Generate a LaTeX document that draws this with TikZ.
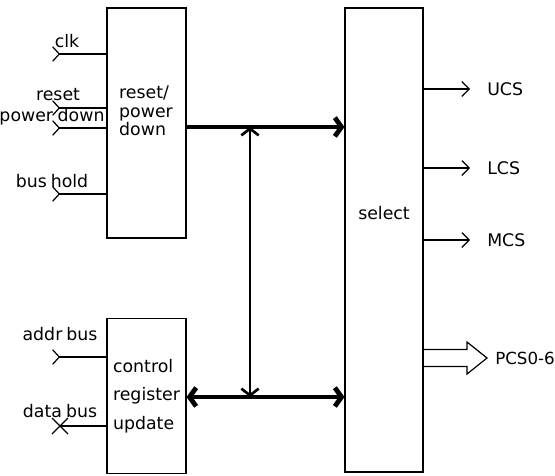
\documentclass[tikz,border=0pt]{standalone}
\usepackage{fontspec}
\setmainfont{DejaVu Sans}
\usetikzlibrary{arrows.meta,calc}

\tikzset{
  blk/.style={draw, line width=0.8pt, inner sep=0pt},
  sig/.style={line width=0.9pt},
  intip/.style={sig, {Straight Barb[reversed,length=5pt,width=11pt]}-},
  outtip/.style={sig, -{Straight Barb[length=5.5pt,width=11pt]}},
  bus/.style={line width=3.6pt},
  vbus/.style={line width=2pt},
  lbl/.style={font=\fontsize{13}{14}\selectfont, inner sep=0pt},
}

\begin{document}
\begin{tikzpicture}[x=0.75pt,y=-0.75pt]
  \useasboundingbox (0,0) rectangle (555,475);

  % blocks
  \node[blk, minimum width=59.25pt, minimum height=172.5pt] (rpd) at (146.5,123) {};
  \node[lbl, align=left] (rpdtxt) at (146,111) {reset/\\power\\down};

  \node[blk, minimum width=59.25pt, minimum height=116.25pt, lbl, align=left] (ctl) at (146.5,396) {control\\[7pt]register\\[8pt]update};

  \node[blk, minimum width=58.5pt, minimum height=348pt] (sel) at (384,240) {};
  \node[lbl] (seltxt) at (384,213) {select};

  % inputs
  \coordinate (clk) at (52,54);
  \coordinate (rst) at (52,108);
  \coordinate (pwd) at (52,128);
  \coordinate (bhd) at (52,194);
  \coordinate (adr) at (52,357);
  \coordinate (dat) at (60,426);

  \draw[intip] (clk) -- (clk -| rpd.west);
  \node[lbl, anchor=base] (lclk) at (67,47) {clk};
  \draw[intip] (rst) -- (rst -| rpd.west);
  \node[lbl, anchor=base] (lrst) at (58,100) {reset};
  \draw[intip] (pwd) -- (pwd -| rpd.west);
  \node[lbl, anchor=base] (lpwd) at (52,121) {power\hspace{3.5pt}down};
  \draw[intip] (bhd) -- (bhd -| rpd.west);
  \node[lbl, anchor=base] (lbhd) at (52,187) {bus\hspace{3pt}hold};

  \draw[intip] (adr) -- (adr -| ctl.west);
  \node[lbl, anchor=base] (ladr) at (60,340) {addr\hspace{3pt}bus};
  \draw[sig] (dat -| ctl.west) -- (dat);
  \draw[sig] (dat) ++(-8,-8) -- ++(16,16) ++(0,-16) -- ++(-16,16);
  \node[lbl, anchor=base] (ldat) at (60,417) {data\hspace{3pt}bus};

  % internal bus
  \coordinate (jt) at (250,127);
  \coordinate (jb) at (250,397);
  \draw[bus, -{Straight Barb[length=5pt,width=14pt]}] (jt -| rpd.east) -- (jt -| sel.west);
  \draw[vbus, {Straight Barb[length=5pt,width=13pt]}-{Straight Barb[length=5pt,width=13pt]}] (jt) -- (jb);
  \draw[bus, {Straight Barb[length=5pt,width=14pt]}-{Straight Barb[length=5pt,width=14pt]}] (jb -| ctl.east) -- (jb -| sel.west);

  % outputs
  \coordinate (ucs) at (470,89);
  \coordinate (lcs) at (470,168);
  \coordinate (mcs) at (470,240);
  \draw[outtip] (ucs -| sel.east) -- (ucs);
  \node[lbl, anchor=west] (lucs) at (487,89) {UCS};
  \draw[outtip] (lcs -| sel.east) -- (lcs);
  \node[lbl, anchor=west] (llcs) at (487,168) {LCS};
  \draw[outtip] (mcs -| sel.east) -- (mcs);
  \node[lbl, anchor=west] (lmcs) at (487,240) {MCS};

  \coordinate (pcs) at (423,358);
  \draw[sig, line join=miter] (pcs) ++(0,-8.5) -- ++(44,0) -- ++(0,-7.5) -- ++(20,16) -- ++(-20,16) -- ++(0,-7.5) -- ++(-44,0);
  \node[lbl, font=\fontsize{12.5}{14}\selectfont, anchor=east] (lpcs) at (555,358) {PCS0-6};
\end{tikzpicture}
\end{document}
